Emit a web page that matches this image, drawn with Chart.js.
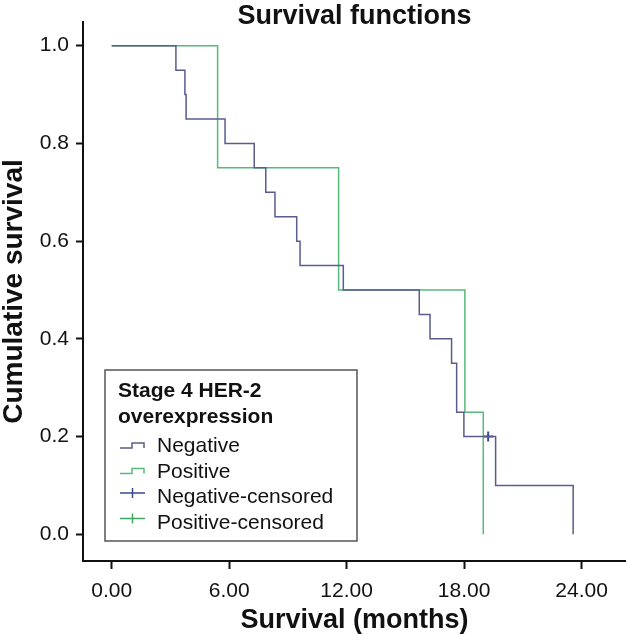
<!DOCTYPE html>
<html>
<head>
<meta charset="utf-8">
<script src="https://cdn.jsdelivr.net/npm/chart.js@4.4.1/dist/chart.umd.min.js"></script>
<style>
  html, body { margin: 0; padding: 0; background: #fff; }
  canvas { display: block; }
</style>
</head>
<body>
<canvas id="survivalChart" width="626" height="634"></canvas>
<script>
// --- Data ---
const negMonths = [0, 3.28, 3.74, 3.80, 5.79, 7.28, 7.87, 8.34, 9.45, 9.62, 11.83, 15.71, 16.26, 17.36, 17.62, 17.99, 19.61, 23.57];
const negSurv   = [1.0, 0.95, 0.90, 0.85, 0.80, 0.75, 0.70, 0.65, 0.60, 0.55, 0.50, 0.45, 0.40, 0.35, 0.25, 0.20, 0.10, 0.0];
const posMonths = [0, 5.41, 11.59, 18.04, 18.98];
const posSurv   = [1.0, 0.75, 0.50, 0.25, 0.0];
const negCensMonths = [19.23];
const negCensSurv   = [0.20];
const posCensMonths = [];
const posCensSurv   = [];

const xTicks = [0, 6, 12, 18, 24];
const yTicks = [0, 0.2, 0.4, 0.6, 0.8, 1.0];
const legendTitle = ["Stage 4 HER-2", "overexpression"];

const negColor = "#595c8f";
const posColor = "#58b97b";
const FONT = "'Liberation Sans', Arial, sans-serif";

Chart.defaults.font.family = FONT;
Chart.defaults.color = "#111";

function toPoints(xs, ys) {
    return xs.map((x, i) => ({ x: x, y: ys[i] }));
}

// --- Title and boxed legend ---
const extras = {
    id: "extras",
    afterDraw(chart) {
        const ctx = chart.ctx, area = chart.chartArea;
        ctx.save();
        ctx.fillStyle = "#111";
        ctx.textAlign = "center";
        ctx.textBaseline = "alphabetic";
        ctx.font = "bold 27px " + FONT;
        ctx.fillText("Survival functions", (area.left + area.right) / 2, 24);

        // legend box
        const bx = area.left + 22, by = area.bottom - 191, bw = 252, bh = 171;
        ctx.fillStyle = "#fff";
        ctx.fillRect(bx, by, bw, bh);
        ctx.strokeStyle = "#555";
        ctx.lineWidth = 1.5;
        ctx.strokeRect(bx, by, bw, bh);

        ctx.textAlign = "left";
        ctx.fillStyle = "#111";
        ctx.font = "bold 21px " + FONT;
        legendTitle.forEach((t, i) => ctx.fillText(t, bx + 13, by + 27 + i * 26));

        ctx.font = "21px " + FONT;
        chart.data.datasets.forEach((ds, i) => {
            const base = by + 82 + i * 25.5;
            const sx = bx + 15;
            ctx.strokeStyle = ds.borderColor;
            ctx.lineWidth = 1.5;
            ctx.beginPath();
            if (ds.showLine === false) {
                ctx.moveTo(sx, base - 10); ctx.lineTo(sx + 25, base - 10);
                ctx.moveTo(sx + 12.5, base - 15); ctx.lineTo(sx + 12.5, base - 5);
            } else {
                ctx.moveTo(sx, base - 4); ctx.lineTo(sx + 12, base - 4);
                ctx.lineTo(sx + 12, base - 9); ctx.lineTo(sx + 24, base - 9);
                ctx.lineTo(sx + 24, base - 4);
            }
            ctx.stroke();
            ctx.fillText(ds.label, bx + 52, base);
        });
        ctx.restore();
    }
};

const ctx = document.getElementById("survivalChart").getContext("2d");
const survivalChart = new Chart(ctx, {
    type: "line",
    data: {
        datasets: [{
            label: "Negative",
            data: toPoints(negMonths, negSurv),
            borderColor: negColor,
            borderWidth: 1.5,
            stepped: "before",
            pointRadius: 0,
            fill: false
        }, {
            label: "Positive",
            data: toPoints(posMonths, posSurv),
            borderColor: posColor,
            borderWidth: 1.5,
            stepped: "before",
            pointRadius: 0,
            fill: false
        }, {
            label: "Negative-censored",
            data: toPoints(negCensMonths, negCensSurv),
            borderColor: "#3b4a90",
            showLine: false,
            pointStyle: "cross",
            pointRadius: 5,
            pointBorderWidth: 2
        }, {
            label: "Positive-censored",
            data: toPoints(posCensMonths, posCensSurv),
            borderColor: "#3fa860",
            showLine: false,
            pointStyle: "cross",
            pointRadius: 5,
            pointBorderWidth: 2
        }]
    },
    options: {
        responsive: false,
        animation: false,
        layout: { autoPadding: false, padding: { top: 22, right: 0, left: 0, bottom: 0 } },
        plugins: {
            legend: { display: false },
            title: { display: false },
            tooltip: { enabled: false }
        },
        scales: {
            x: {
                type: "linear",
                min: -1.466,
                max: 26.27,
                afterBuildTicks: (s) => { s.ticks = xTicks.map(v => ({ value: v })); },
                afterFit: (s) => { s.height = 73; s.paddingLeft = 0; s.paddingRight = 0; },
                ticks: {
                    callback: (v) => Number(v).toFixed(2),
                    font: { size: 21 },
                    color: "#111",
                    padding: 10,
                    maxRotation: 0
                },
                grid: { drawOnChartArea: false, drawTicks: true, tickLength: 8, color: "#111", tickWidth: 2 },
                border: { display: true, color: "#111", width: 2 },
                title: {
                    display: true,
                    text: "Survival (months)",
                    font: { size: 27, weight: "bold", lineHeight: 1 },
                    color: "#111",
                    padding: { top: 0, bottom: 0 }
                }
            },
            y: {
                type: "linear",
                min: -0.0546,
                max: 1.0485,
                afterBuildTicks: (s) => { s.ticks = yTicks.map(v => ({ value: v })); },
                afterFit: (s) => { s.width = 83; s.paddingTop = 0; s.paddingBottom = 0; },
                ticks: {
                    callback: (v) => Number(v).toFixed(1),
                    font: { size: 21 },
                    color: "#111",
                    padding: 7
                },
                grid: { drawOnChartArea: false, drawTicks: true, tickLength: 7, color: "#111", tickWidth: 2 },
                border: { display: true, color: "#111", width: 2 },
                title: {
                    display: true,
                    text: "Cumulative survival",
                    font: { size: 28, weight: "bold", lineHeight: 1 },
                    color: "#111",
                    padding: { top: 0, bottom: 0 }
                }
            }
        }
    },
    plugins: [extras]
});
</script>
</body>
</html>
